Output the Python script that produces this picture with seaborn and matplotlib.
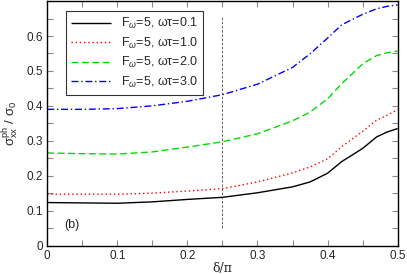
import matplotlib
matplotlib.use("Agg")
import matplotlib.pyplot as plt
from matplotlib.ticker import MultipleLocator
import numpy as np
import pandas as pd
import seaborn as sns

delta = [0.0, 0.05, 0.1, 0.15, 0.2, 0.25, 0.3, 0.35, 0.375, 0.4, 0.42, 0.45, 0.47, 0.485, 0.5]
sigma_01 = [0.123, 0.122, 0.121, 0.125, 0.132, 0.138, 0.151, 0.168, 0.182, 0.207, 0.240, 0.278, 0.311, 0.325, 0.335]
sigma_10 = [0.147, 0.147, 0.147, 0.150, 0.156, 0.163, 0.182, 0.208, 0.225, 0.248, 0.283, 0.327, 0.359, 0.373, 0.389]
sigma_20 = [0.265, 0.263, 0.262, 0.268, 0.282, 0.297, 0.320, 0.357, 0.382, 0.420, 0.463, 0.520, 0.544, 0.552, 0.557]
sigma_30 = [0.390, 0.390, 0.392, 0.400, 0.413, 0.432, 0.462, 0.510, 0.549, 0.594, 0.632, 0.662, 0.678, 0.685, 0.689]

labels = ["F$_\\omega$=5, ωτ=0.1", "F$_\\omega$=5, ωτ=1.0",
          "F$_\\omega$=5, ωτ=2.0", "F$_\\omega$=5, ωτ=3.0"]
colors = ["black", "#ff0000", "#00dd00", "#0000ff"]
dashes = [(1, 0), (1, 2), (5, 2.5), (5, 2, 1, 2)]
xticks = [0, 0.1, 0.2, 0.3, 0.4, 0.5]
yticks = [0, 0.1, 0.2, 0.3, 0.4, 0.5, 0.6]

rows = []
for lab, ys in zip(labels, [sigma_01, sigma_10, sigma_20, sigma_30]):
    for x, y in zip(delta, ys):
        rows.append({"delta": x, "sigma": y, "series": lab})
df = pd.DataFrame(rows)

sns.set_style("ticks")
plt.rcParams["font.family"] = ["Liberation Sans", "DejaVu Sans"]
plt.rcParams["mathtext.fontset"] = "custom"
plt.rcParams["mathtext.rm"] = "Liberation Sans"
plt.rcParams["mathtext.it"] = "Liberation Sans:italic"

fig, ax = plt.subplots(figsize=(4.07, 2.74), dpi=100)
sns.lineplot(data=df, x="delta", y="sigma", hue="series", style="series",
             palette=dict(zip(labels, colors)), dashes=dict(zip(labels, dashes)),
             hue_order=labels, style_order=labels, linewidth=1.0, ax=ax)

ax.plot([0.25, 0.25], [0.05, 0.655], color="#444444", lw=0.6, ls=(0, (3, 2)))

ax.set_xlim(0, 0.5)
ax.set_ylim(0, 0.7)
ax.set_xticks(xticks)
ax.set_xticklabels([f"{t:g}" for t in xticks])
ax.set_yticks(yticks)
ax.set_yticklabels([f"{t:g}" for t in yticks])
ax.xaxis.set_minor_locator(MultipleLocator(0.05))
ax.yaxis.set_minor_locator(MultipleLocator(0.05))
ax.tick_params(which="both", direction="in", top=True, right=True,
               length=4, width=0.8, color="#888888", labelsize=8.5, pad=3)

for s in ax.spines.values():
    s.set_linewidth(1.0)
    s.set_color("black")

ax.set_xlabel("δ/π", fontsize=9, family=["DejaVu Serif"], labelpad=0)
ax.set_ylabel("σ$^{\\rm ph}_{\\rm xx}$ / σ$_0$", fontsize=9.5, labelpad=4)
ax.text(0.025, 0.05, "(b)", fontsize=9)

leg = ax.legend(loc="upper left", bbox_to_anchor=(0.035, 0.985), fontsize=9,
                frameon=True, fancybox=False, edgecolor="black",
                handlelength=3.2, borderpad=0.4, labelspacing=0.35,
                handletextpad=0.8)
leg.get_frame().set_linewidth(0.8)
leg.set_title(None)

fig.subplots_adjust(left=0.116, right=0.977, top=0.996, bottom=0.104)
fig.savefig("out.png", dpi=100)
